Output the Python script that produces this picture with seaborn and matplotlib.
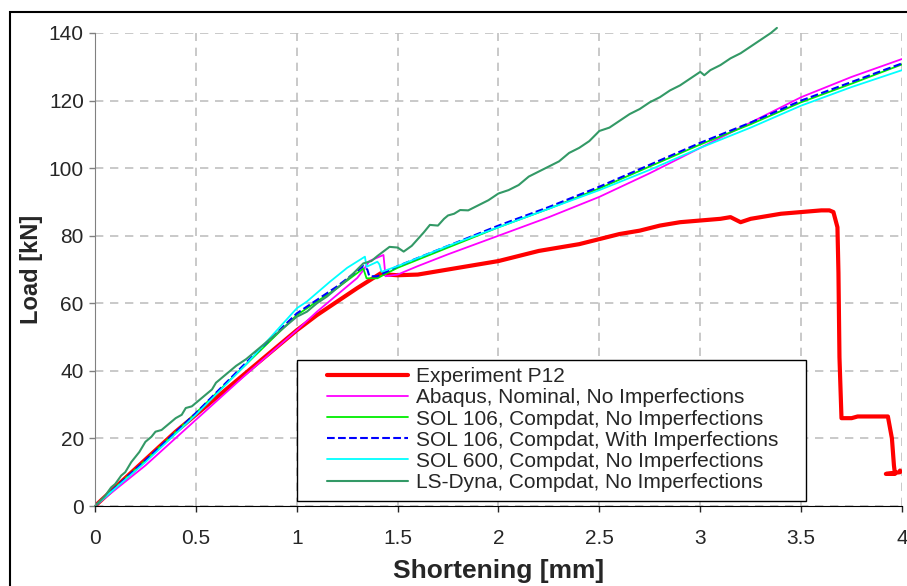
# %% libraries
import matplotlib
matplotlib.use('Agg')
import matplotlib.pyplot as plt
import seaborn as sns
import pandas as pd
from matplotlib.patches import Rectangle

# %% data
exp_x = [0, 0.1, 0.2, 0.3, 0.4, 0.5, 0.6, 0.7, 0.8, 0.9, 1.0, 1.1, 1.2, 1.3,
         1.38, 1.42, 1.45, 1.5, 1.6, 1.7, 1.8, 1.9, 2.0, 2.1, 2.2, 2.3, 2.4,
         2.5, 2.6, 2.7, 2.8, 2.9, 3.0, 3.1, 3.15, 3.2, 3.25, 3.3, 3.4, 3.5,
         3.6, 3.64, 3.66, 3.68, 3.685, 3.69, 3.70, 3.75, 3.78, 3.93, 3.95,
         3.96, 3.965, 3.92, 3.99, 3.99]
exp_y = [0, 5.5, 11, 16.5, 22, 27, 32, 37, 42, 47, 52, 56.5, 60.5, 64.5,
         67.5, 69, 68.5, 68.3, 68.5, 69.5, 70.5, 71.5, 72.5, 74, 75.5, 76.5,
         77.5, 79, 80.5, 81.5, 83, 84, 84.5, 85, 85.5, 84, 85, 85.5, 86.5, 87,
         87.5, 87.5, 87, 82.5, 69, 44, 26, 26, 26.5, 26.5, 20, 12, 9.5, 9.5,
         10, 10.5]

abq_x = [0, 0.25, 0.5, 0.75, 1.0, 1.1, 1.2, 1.3, 1.33, 1.36, 1.43, 1.44,
         1.5, 1.6, 1.75, 2.0, 2.25, 2.5, 2.75, 3.0, 3.25, 3.5, 3.75, 4.0]
abq_y = [0, 12, 25.5, 39, 52, 57.5, 62.5, 67.5, 69.8, 72.5, 74.3, 68, 68.5,
         71, 74.5, 80, 85.5, 91.5, 98.5, 106, 113.5, 121, 127, 132.3]

s106_x = [0, 0.25, 0.5, 0.75, 1.0, 1.1, 1.2, 1.33, 1.346, 1.40, 1.43, 1.5,
          1.75, 2.0, 2.25, 2.5, 2.75, 3.0, 3.25, 3.5, 3.75, 4.0]
s106_y = [0, 13.5, 27.5, 42, 56.5, 60.5, 64.5, 70.3, 67.4, 67.4, 68.4, 70.5,
          76.5, 82.5, 88, 94, 100.5, 107, 113, 119.5, 125, 130.7]

s106i_x = [0, 0.25, 0.5, 0.75, 1.0, 1.2, 1.33, 1.35, 1.36, 1.40, 1.45, 1.5,
           1.75, 2.0, 2.25, 2.5, 2.75, 3.0, 3.25, 3.5, 3.75, 4.0]
s106i_y = [0, 13.5, 27.5, 42.5, 57, 65, 71, 70, 68, 68, 69.5, 71, 77, 83,
           88.5, 94.5, 101, 107.5, 113.5, 120, 125.5, 131]

s600_x = [0, 0.25, 0.5, 0.75, 1.0, 1.05, 1.165, 1.25, 1.338, 1.346, 1.40,
          1.41, 1.42, 1.5, 1.75, 2.0, 2.25, 2.5, 2.75, 3.0, 3.25, 3.5, 3.75,
          4.0]
s600_y = [0, 13, 27, 42, 58.5, 60.5, 66.4, 70.5, 73.8, 70.8, 72.3, 71.5,
          69.3, 71, 77, 82.5, 88, 93.5, 99.5, 106, 112, 118.5, 124, 129]

lsd_x = [0, 0.05, 0.08, 0.1, 0.13, 0.15, 0.18, 0.2, 0.22, 0.25, 0.28, 0.3,
         0.33, 0.35, 0.38, 0.4, 0.43, 0.45, 0.48, 0.5, 0.53, 0.55, 0.58, 0.6,
         0.65, 0.7, 0.75, 0.8, 0.85, 0.9, 0.95, 1.0, 1.05, 1.1, 1.15, 1.2,
         1.25, 1.3, 1.33, 1.37, 1.4, 1.46, 1.5, 1.53, 1.57, 1.6, 1.63, 1.66,
         1.7, 1.73, 1.75, 1.78, 1.81, 1.85, 1.9, 1.95, 2.0, 2.05, 2.1, 2.15,
         2.2, 2.25, 2.3, 2.35, 2.4, 2.45, 2.5, 2.55, 2.6, 2.65, 2.7, 2.75,
         2.8, 2.85, 2.9, 2.95, 3.0, 3.02, 3.05, 3.1, 3.15, 3.2, 3.25, 3.3,
         3.35, 3.38]
lsd_y = [0, 3, 5.5, 6.5, 9, 10, 13, 14.5, 16, 19, 20.5, 22, 22.5, 23.5, 25,
         26, 27, 29, 29.5, 30.5, 32, 33, 34.5, 36.5, 39, 41.5, 43.5, 46,
         48.5, 51, 53.5, 56, 57.5, 60, 62, 64.5, 67, 70, 71.8, 72.5, 74, 76.7,
         76.5, 75.3, 77, 79, 81, 83.2, 83, 85, 86, 86.5, 87.6, 87.5, 89, 90.5,
         92.5, 93.5, 95, 97.5, 99, 100.5, 102, 104.5, 106, 108, 111, 112,
         114, 116, 117.5, 119.5, 121, 123, 124.5, 126.5, 128.5, 127.5, 129,
         130.5, 132.5, 134, 136, 138, 140, 141.5]

x_ticks = [0, 0.5, 1, 1.5, 2, 2.5, 3, 3.5, 4]
x_tick_labels = ['0', '0.5', '1', '1.5', '2', '2.5', '3', '3.5', '4']
y_ticks = [0, 20, 40, 60, 80, 100, 120, 140]

series = [
    ('Experiment P12', exp_x, exp_y, 'red', 3.0, '-'),
    ('Abaqus, Nominal, No Imperfections', abq_x, abq_y, '#ff00ff', 1.3, '-'),
    ('SOL 106, Compdat, No Imperfections', s106_x, s106_y, '#00ee00', 1.3, '-'),
    ('SOL 106, Compdat, With Imperfections', s106i_x, s106i_y, '#0000ff', 1.5, '--'),
    ('SOL 600, Compdat, No Imperfections', s600_x, s600_y, '#00ffff', 1.3, '-'),
    ('LS-Dyna, Compdat, No Imperfections', lsd_x, lsd_y, '#339966', 1.5, '-'),
]

# %% style
sns.set_style('white')
plt.rcParams['font.family'] = ['Liberation Sans', 'DejaVu Sans']

# %% figure
fig = plt.figure(figsize=(9.07, 5.86), dpi=100)
ax = fig.add_axes([0.1047, 0.1365, 0.8898, 0.8072])

for name, xs, ys, col, lw, ls in series:
    df = pd.DataFrame({'x': xs, 'y': ys})
    sns.lineplot(data=df, x='x', y='y', sort=False, estimator=None,
                 color=col, lw=lw, ls=ls, label=name, ax=ax)

# LS-Dyna runs a touch past the top of the plot area
ax.lines[-1].set_clip_on(False)

# axes
ax.set_xlim(0, 4)
ax.set_ylim(0, 140)
ax.set_xticks(x_ticks)
ax.set_xticklabels(x_tick_labels)
ax.set_yticks(y_ticks)
ax.tick_params(axis='x', labelsize=15, direction='out', length=4.5,
               width=1, pad=12, bottom=True)
ax.tick_params(axis='y', labelsize=15, direction='out', length=4,
               width=1, pad=4, left=True, color='#808080')
ax.set_xlabel('Shortening [mm]', fontsize=19, fontweight='bold', labelpad=8)
ax.set_ylabel('Load [kN]', fontsize=17, fontweight='bold', labelpad=4)

ax.grid(True, color='#c0c0c0', ls=(0, (5, 4)), lw=1.2)
for side in ['top', 'right']:
    ax.spines[side].set_visible(False)
ax.spines['left'].set_color('#808080')
ax.spines['bottom'].set_color('black')
ax.set_axisbelow(True)

# legend: frame drawn separately so its padding matches the reference
ax.add_patch(Rectangle((0.2503, 0.0106), 0.6307, 0.298,
                       transform=ax.transAxes, facecolor='white',
                       edgecolor='black', lw=1.0, zorder=4.5))
leg = ax.legend(loc='upper left', bbox_to_anchor=(0.2875, 0.293),
                fontsize=15, frameon=False, handlelength=3.9,
                handletextpad=0.35, labelspacing=0.1,
                borderpad=0, borderaxespad=0)
leg.set_zorder(5)

# outer chart border
fig.patches.append(Rectangle((10 / 907, -0.05), 1.0, 1 - 12 / 586 + 0.05,
                             transform=fig.transFigure, fill=False,
                             edgecolor='black', lw=1.5, clip_on=False))

# save plot
plt.savefig('out.png', dpi=100)
